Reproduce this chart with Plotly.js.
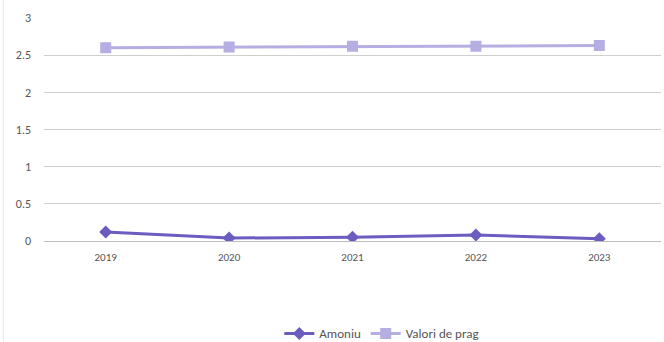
<!DOCTYPE html>
<html><head><meta charset="utf-8">
<script src="https://cdn.plot.ly/plotly-3.0.1.min.js"></script>
<style>html,body{margin:0;padding:0;background:#fff}#c{width:664px;height:342px}</style>
</head><body><div id="c"></div>
<script>
var years = ['2019','2020','2021','2022','2023'];
var amoniu = [0.12, 0.04, 0.05, 0.08, 0.03];
var valoriPrag = [2.6, 2.61, 2.62, 2.62, 2.63];
var yTicks = [0, 0.5, 1, 1.5, 2, 2.5, 3];
var yTickLabels = ['0', '0.5', '1', '1.5', '2', '2.5', '3'];

var traces = [
  {x: years, y: amoniu, name: 'Amoniu', type: 'scatter', mode: 'lines+markers',
   line: {color: '#6b5cc0', width: 3}, marker: {symbol: 'diamond', size: 10, color: '#6b5cc0'}},
  {x: years, y: valoriPrag, name: 'Valori de prag', type: 'scatter', mode: 'lines+markers',
   line: {color: '#b5aee2', width: 3}, marker: {symbol: 'square', size: 11, color: '#b5aee2'}}
];
var layout = {
  width: 664, height: 342,
  margin: {l: 44, r: 3, t: 18, b: 101},
  paper_bgcolor: '#fff', plot_bgcolor: '#fff',
  font: {family: 'Carlito, "Open Sans", "Liberation Sans", sans-serif', size: 11, color: '#555'},
  showlegend: true,
  legend: {orientation: 'h', xref: 'container', yref: 'container', x: 0.575, xanchor: 'center',
           y: 0.025, yanchor: 'middle', font: {size: 13, color: '#555'}, traceorder: 'normal',
           itemwidth: 30},
  xaxis: {type: 'category', range: [-0.5, 4.5], showgrid: false, zeroline: false, showline: false,
          ticks: '', tickfont: {size: 11, color: '#555'}, ticklabelstandoff: 8, automargin: false},
  yaxis: {range: [0, 3], tickvals: yTicks, ticktext: yTickLabels, showgrid: true,
          gridcolor: '#cfcfcf', gridwidth: 1, zeroline: true, zerolinecolor: '#bdbdbd',
          showline: false, ticks: '', tickfont: {size: 12, color: '#555'}, ticklabelstandoff: 12,
          automargin: false},
  shapes: [{type: 'line', xref: 'paper', yref: 'paper', x0: -0.066, x1: -0.066, y0: -0.45, y1: 1.1,
            line: {color: '#e4e4e4', width: 1}}]
};
Plotly.newPlot('c', traces, layout, {displayModeBar: false, staticPlot: true});
</script></body></html>
